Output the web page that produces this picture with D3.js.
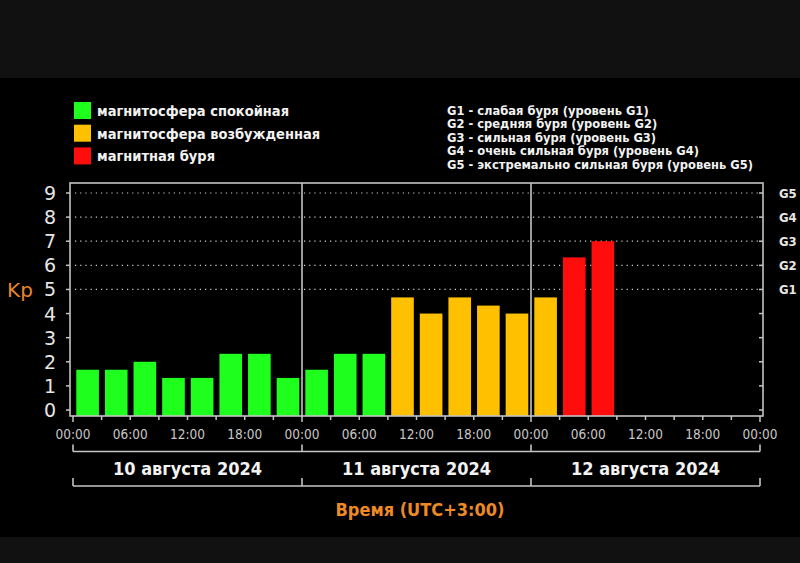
<!DOCTYPE html>
<html lang="ru">
<head>
  <meta charset="utf-8">
  <title>Kp index</title>
  <script src="https://d3js.org/d3.v7.min.js"></script>
  <style>
    body { margin: 0; padding: 0; background: #000; }
    svg { display: block; }
    text { font-family: "DejaVu Sans", sans-serif; }
  </style>
</head>
<body>
  <div id="chart"></div>
  <script>
    // Data
    const days = ["10 августа 2024", "11 августа 2024", "12 августа 2024"];
    const kpValues = [1.67, 1.67, 2.0, 1.33, 1.33, 2.33, 2.33, 1.33,
                      1.67, 2.33, 2.33, 4.67, 4.0, 4.67, 4.33, 4.0,
                      4.67, 6.33, 7.0];
    const legendLabels = ["магнитосфера спокойная", "магнитосфера возбужденная", "магнитная буря"];
    const legendColors = ["#1eff1e", "#ffc000", "#ff0d0d"];
    const stormLabels = [
      "G1 - слабая буря (уровень G1)",
      "G2 - средняя буря (уровень G2)",
      "G3 - сильная буря (уровень G3)",
      "G4 - очень сильная буря (уровень G4)",
      "G5 - экстремально сильная буря (уровень G5)"
    ];
    const gLevels = ["G1", "G2", "G3", "G4", "G5"];
    const gKp = [5, 6, 7, 8, 9];
    const yTicks = [0, 1, 2, 3, 4, 5, 6, 7, 8, 9];
    const hourLabels = ["00:00", "06:00", "12:00", "18:00"];

    const W = 800, H = 563;
    const svg = d3.select("#chart").append("svg")
      .attr("width", W).attr("height", H);

    // background bands
    svg.append("rect").attr("width", W).attr("height", H).attr("fill", "#000");
    svg.append("rect").attr("width", W).attr("height", 78).attr("fill", "#111");
    svg.append("rect").attr("y", 537).attr("width", W).attr("height", H - 537).attr("fill", "#111");

    // plot frame
    const frame = { left: 70, right: 763, top: 183, bottom: 416 };
    const x = d3.scaleLinear().domain([0, 72]).range([73, 760]);
    const y = d3.scaleLinear().domain([0, 9]).range([410, 193]);
    const color = d3.scaleThreshold().domain([4, 5]).range(legendColors);
    const lineColor = "#c4c4c4";

    // dotted gridlines (storm levels), interrupted at day dividers
    const g = svg.append("g");
    days.forEach((d, i) => {
      g.selectAll(null).data(gKp).join("line")
        .attr("x1", x(i * 24) + 2).attr("x2", x((i + 1) * 24) - 2)
        .attr("y1", d => y(d)).attr("y2", d => y(d))
        .attr("stroke", "#d0d0d0").attr("stroke-width", 1.2)
        .attr("stroke-dasharray", "1.2,4");
    });

    // bars
    const slot = x(3) - x(0);
    g.selectAll("rect.bar").data(kpValues).join("rect")
      .attr("class", "bar")
      .attr("x", (d, i) => x(i * 3) + 3.3)
      .attr("width", slot - 6)
      .attr("y", d => y(d))
      .attr("height", d => frame.bottom - y(d))
      .attr("fill", d => color(d));

    // frame lines
    g.append("rect")
      .attr("x", frame.left).attr("y", frame.top)
      .attr("width", frame.right - frame.left).attr("height", frame.bottom - frame.top)
      .attr("fill", "none").attr("stroke", lineColor).attr("stroke-width", 1.6);
    g.selectAll("line.div").data([24, 48]).join("line")
      .attr("class", "div")
      .attr("x1", d => x(d)).attr("x2", d => x(d))
      .attr("y1", frame.top).attr("y2", frame.bottom)
      .attr("stroke", lineColor).attr("stroke-width", 1.6);

    // left y axis
    g.selectAll("line.ytl").data(yTicks).join("line")
      .attr("class", "ytl")
      .attr("x1", frame.left - 4).attr("x2", frame.left)
      .attr("y1", d => y(d)).attr("y2", d => y(d))
      .attr("stroke", lineColor).attr("stroke-width", 1.5);
    g.selectAll("text.ylab").data(yTicks).join("text")
      .attr("class", "ylab")
      .attr("x", 56).attr("y", d => y(d))
      .attr("text-anchor", "end").attr("dominant-baseline", "central")
      .attr("fill", "#e6e6e6").attr("font-size", 19)
      .text(d => d);
    svg.append("text")
      .attr("x", 20).attr("y", 290)
      .attr("text-anchor", "middle").attr("dominant-baseline", "central")
      .attr("fill", "#e8862e").attr("font-size", 20)
      .text("Kp");

    // right ticks and G labels
    g.selectAll("line.ytr").data(yTicks).join("line")
      .attr("class", "ytr")
      .attr("x1", frame.right - 4).attr("x2", frame.right)
      .attr("y1", d => y(d)).attr("y2", d => y(d))
      .attr("stroke", lineColor).attr("stroke-width", 1.5);
    g.selectAll("text.glab").data(gLevels).join("text")
      .attr("class", "glab")
      .attr("x", 779).attr("y", (d, i) => y(gKp[i]))
      .attr("dominant-baseline", "central")
      .attr("fill", "#e6e6e6").attr("font-size", 13).attr("font-weight", "bold")
      .style("font-family", "'DejaVu Sans Condensed', sans-serif")
      .text(d => d);

    // x axis ticks
    const hours = d3.range(0, 73, 3);
    g.selectAll("line.xt").data(hours).join("line")
      .attr("class", "xt")
      .attr("x1", d => x(d)).attr("x2", d => x(d))
      .attr("y1", frame.bottom).attr("y2", d => frame.bottom + (d % 24 === 0 ? 6 : 4))
      .attr("stroke", lineColor).attr("stroke-width", 1.5);
    const labelHours = d3.range(0, 73, 6);
    g.selectAll("text.xlab").data(labelHours).join("text")
      .attr("class", "xlab")
      .attr("x", d => x(d)).attr("y", 434)
      .attr("text-anchor", "middle").attr("dominant-baseline", "central")
      .attr("fill", "#c8c8c8").attr("font-size", 13.5)
      .style("font-family", "'DejaVu Sans Condensed', sans-serif")
      .text(d => hourLabels[(d % 24) / 6]);

    // day brackets
    function bracket(yy, up) {
      g.append("line")
        .attr("x1", x(0)).attr("x2", x(72)).attr("y1", yy).attr("y2", yy)
        .attr("stroke", lineColor).attr("stroke-width", 1.6);
      g.selectAll(null).data([0, 24, 48, 72]).join("line")
        .attr("x1", d => x(d)).attr("x2", d => x(d))
        .attr("y1", yy).attr("y2", yy - up)
        .attr("stroke", lineColor).attr("stroke-width", 1.6);
    }
    bracket(451.5, 7);
    bracket(486, 8);
    g.selectAll("text.day").data(days).join("text")
      .attr("class", "day")
      .attr("x", (d, i) => x(i * 24 + 12)).attr("y", 468)
      .attr("text-anchor", "middle").attr("dominant-baseline", "central")
      .attr("fill", "#f2f2f2").attr("font-size", 18).attr("font-weight", "bold")
      .style("font-family", "'DejaVu Sans Condensed', sans-serif")
      .text(d => d);
    svg.append("text")
      .attr("x", 420).attr("y", 509)
      .attr("text-anchor", "middle").attr("dominant-baseline", "central")
      .attr("fill", "#ee8a26").attr("font-size", 18).attr("font-weight", "bold")
      .style("font-family", "'DejaVu Sans Condensed', sans-serif")
      .text("Время (UTC+3:00)");

    // legend (left)
    const leg = svg.append("g");
    leg.selectAll("rect").data(legendLabels).join("rect")
      .attr("x", 74).attr("y", (d, i) => 102 + i * 22.7)
      .attr("width", 17).attr("height", 17)
      .attr("fill", (d, i) => legendColors[i]);
    leg.selectAll("text").data(legendLabels).join("text")
      .attr("x", 97).attr("y", (d, i) => 111 + i * 22.7)
      .attr("dominant-baseline", "central")
      .attr("fill", "#f2f2f2").attr("font-size", 14.5).attr("font-weight", "bold")
      .style("font-family", "'DejaVu Sans Condensed', sans-serif")
      .text(d => d);

    // storm levels legend (right)
    svg.append("g").selectAll("text").data(stormLabels).join("text")
      .attr("x", 447).attr("y", (d, i) => 110 + i * 13.5)
      .attr("dominant-baseline", "central")
      .attr("fill", "#f2f2f2").attr("font-size", 12.8).attr("font-weight", "bold")
      .style("font-family", "'DejaVu Sans Condensed', sans-serif")
      .text(d => d);
  </script>
</body>
</html>
